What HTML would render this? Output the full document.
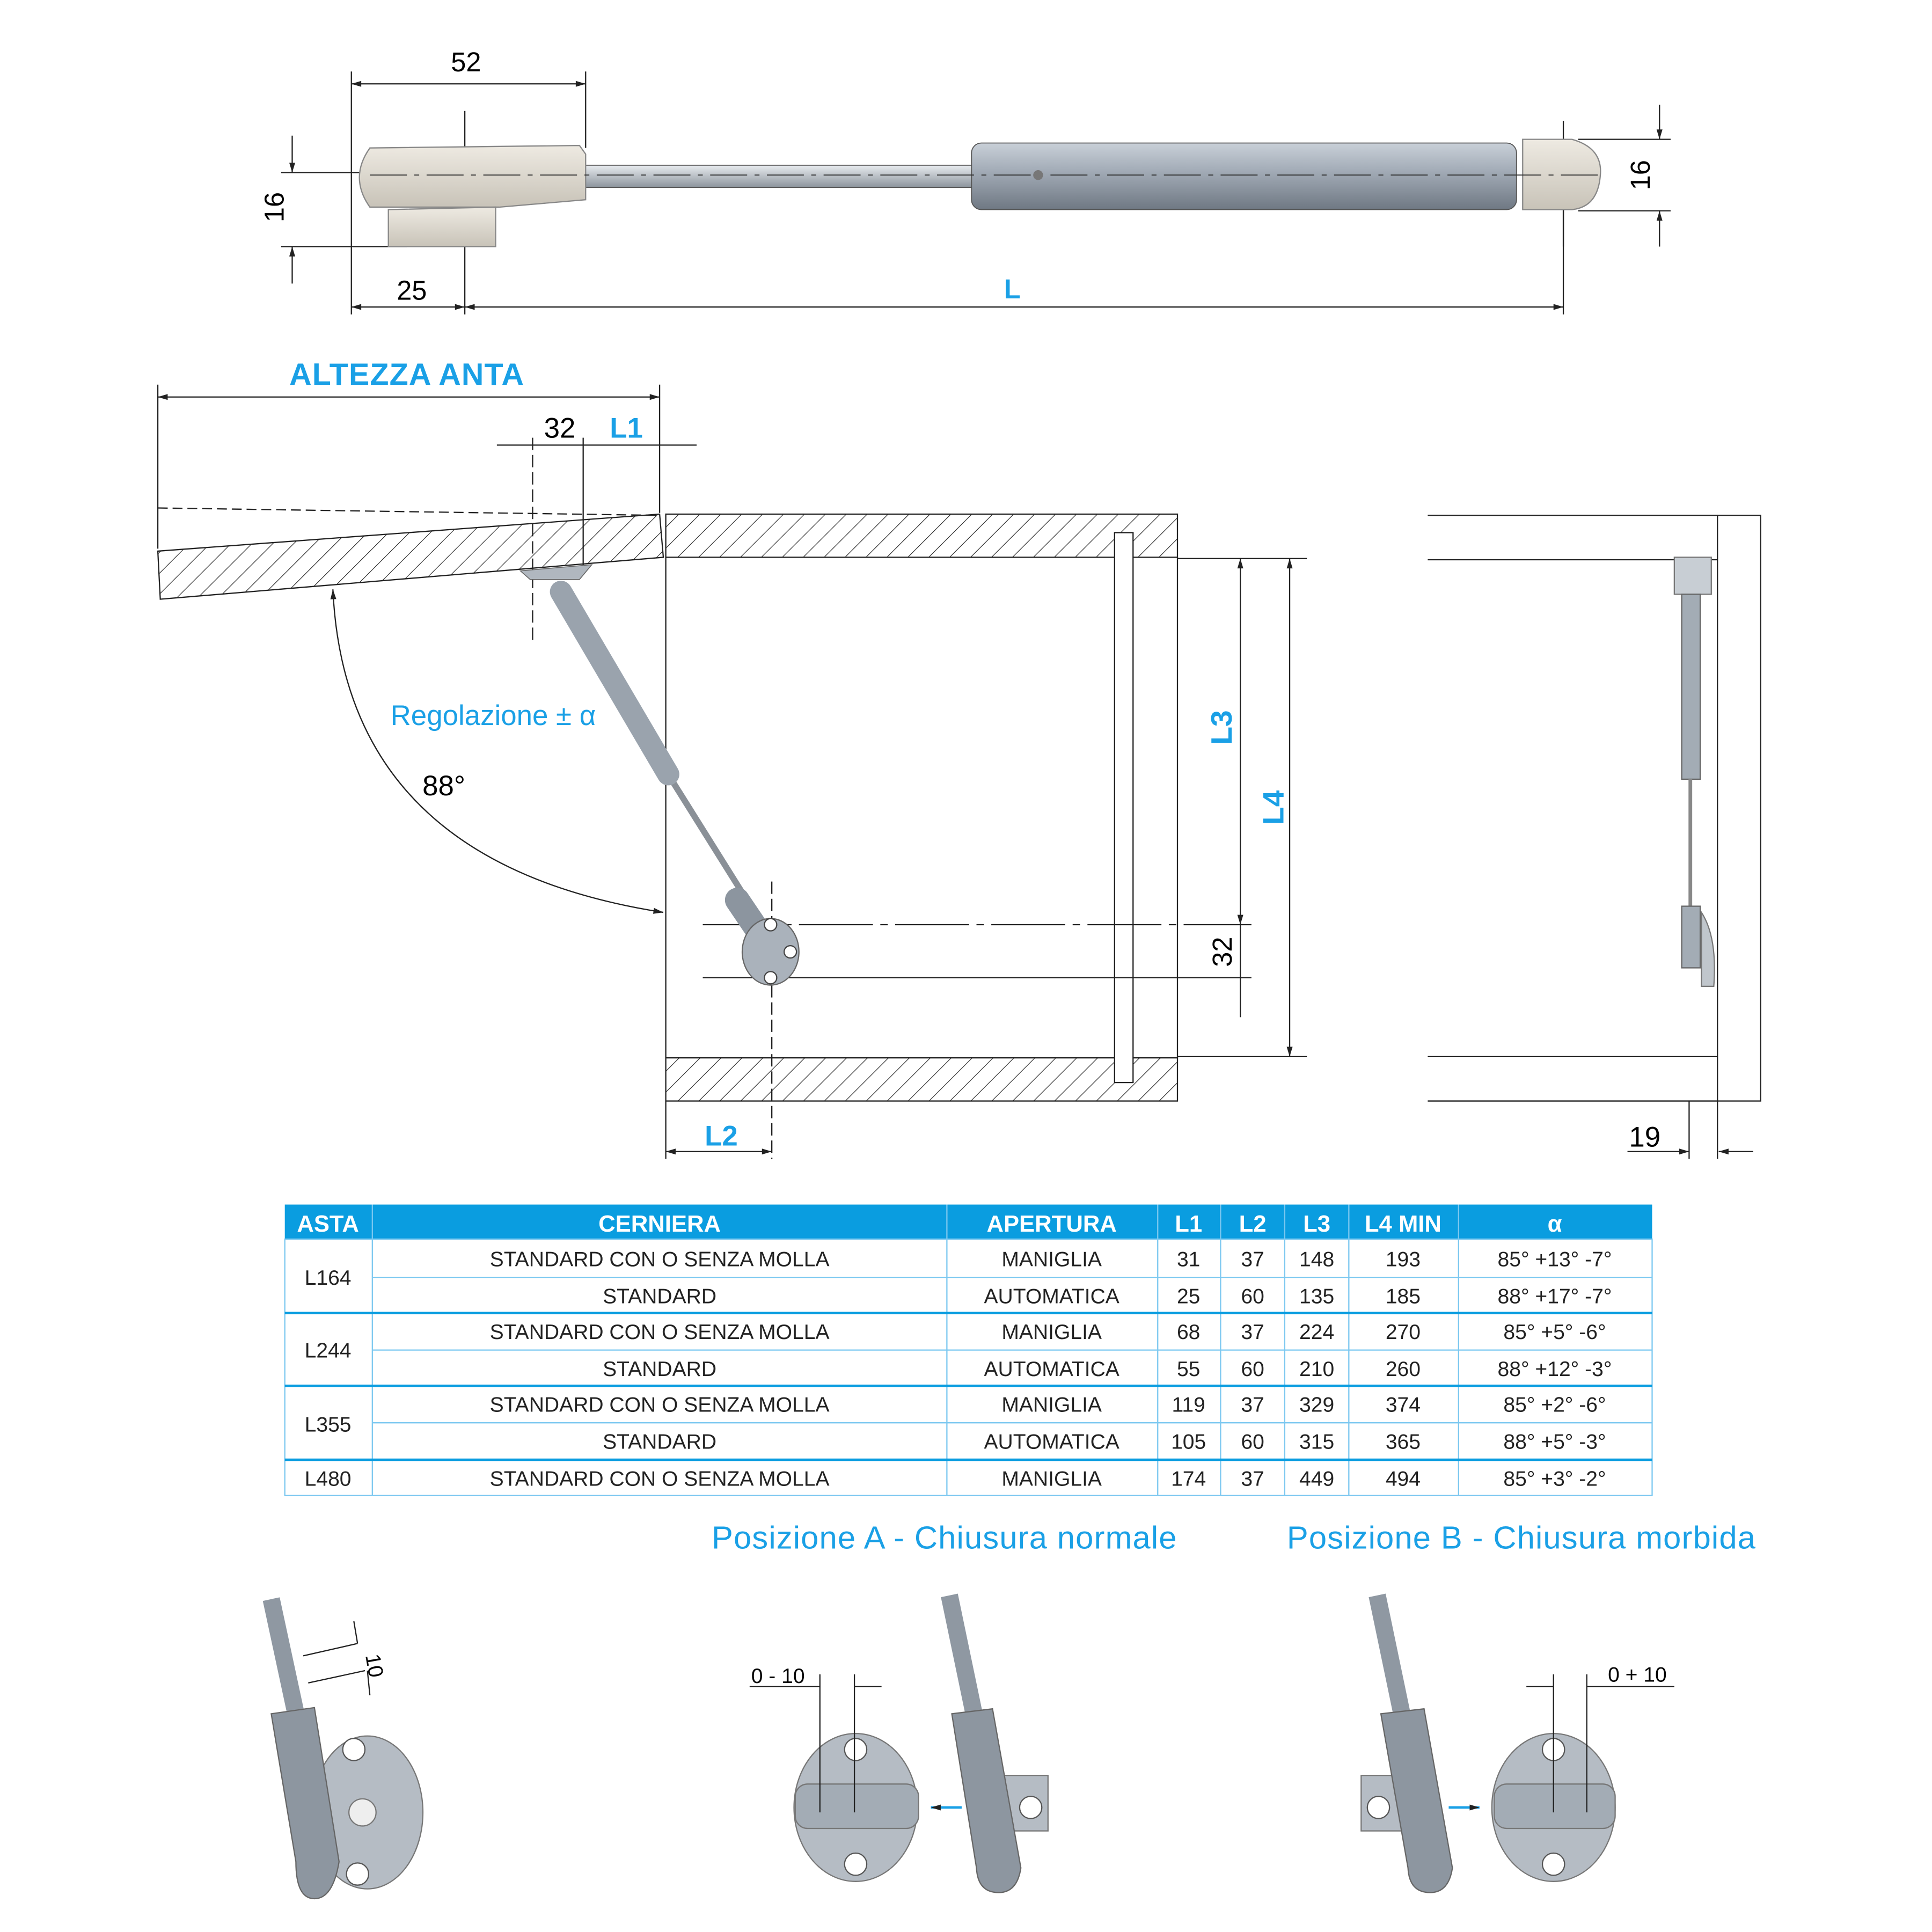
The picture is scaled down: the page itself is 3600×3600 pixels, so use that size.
<!DOCTYPE html>
<html><head><meta charset="utf-8"><style>
html,body{margin:0;padding:0;background:#fff;}
svg{display:block;}
text{font-family:"Liberation Sans",sans-serif;}
</style></head><body>
<svg width="3600" height="3600" viewBox="0 0 1567 1567" xmlns="http://www.w3.org/2000/svg">
<defs>
<pattern id="h" width="12" height="12" patternUnits="userSpaceOnUse" patternTransform="rotate(45)">
<line x1="0" y1="0" x2="0" y2="12" stroke="#222" stroke-width="1"/></pattern>
<linearGradient id="cyl" x1="0" y1="0" x2="0" y2="1"><stop offset="0" stop-color="#c9d0d8"/><stop offset="0.4" stop-color="#a4adb8"/><stop offset="1" stop-color="#6f7883"/></linearGradient>
<linearGradient id="rod" x1="0" y1="0" x2="0" y2="1"><stop offset="0" stop-color="#e8ecf0"/><stop offset="1" stop-color="#8c949c"/></linearGradient>
<linearGradient id="beige" x1="0" y1="0" x2="0" y2="1"><stop offset="0" stop-color="#eeeae2"/><stop offset="1" stop-color="#c8c3b8"/></linearGradient>
<marker id="a" viewBox="0 0 10 10" refX="10" refY="5" markerWidth="10" markerHeight="8" orient="auto-start-reverse" markerUnits="userSpaceOnUse"><path d="M0,2 L10,5 L0,8 z" fill="#222"/></marker>
</defs>
<g stroke="#222" stroke-width="1" fill="none">
<line x1="285" y1="68" x2="475" y2="68" marker-start="url(#a)" marker-end="url(#a)"/>
<line x1="285" y1="58" x2="285" y2="255"/><line x1="475" y1="58" x2="475" y2="120"/>
<line x1="377" y1="90" x2="377" y2="255"/>
<line x1="285" y1="249" x2="377" y2="249" marker-start="url(#a)" marker-end="url(#a)"/>
<line x1="377" y1="249" x2="1268" y2="249" marker-start="url(#a)" marker-end="url(#a)"/>
<line x1="1268" y1="170" x2="1268" y2="255"/>
<line x1="237" y1="110" x2="237" y2="140" marker-end="url(#a)"/><line x1="237" y1="230" x2="237" y2="200" marker-end="url(#a)"/>
<line x1="228" y1="140" x2="295" y2="140"/><line x1="228" y1="200" x2="330" y2="200"/>
<line x1="1346" y1="85" x2="1346" y2="113" marker-end="url(#a)"/><line x1="1346" y1="200" x2="1346" y2="171" marker-end="url(#a)"/>
<line x1="1280" y1="113" x2="1355" y2="113"/><line x1="1280" y1="171" x2="1355" y2="171"/>
<line x1="1268" y1="98" x2="1268" y2="200"/>
</g>
<rect x="470" y="134" width="322" height="18" fill="url(#rod)" stroke="#555" stroke-width="0.8"/>
<rect x="788" y="116" width="442" height="54" rx="8" fill="url(#cyl)" stroke="#555" stroke-width="0.8"/>
<path d="M300,120 L470,118 L475,125 L475,162 L405,168 L300,168 Q283,144 300,120z" fill="url(#beige)" stroke="#888"/>
<path d="M315,170 L402,168 L402,200 L315,200 z" fill="url(#beige)" stroke="#888"/>
<path d="M1235,113 L1275,113 Q1300,120 1298,142 Q1296,168 1275,170 L1235,170z" fill="url(#beige)" stroke="#888"/>
<line x1="300" y1="142" x2="1300" y2="142" stroke="#333" stroke-dasharray="30,6,4,6" stroke-width="0.8"/>
<circle cx="842" cy="142" r="4" fill="#777"/>
<text x="378" y="58" font-size="22" text-anchor="middle">52</text>
<text x="334" y="243" font-size="22" text-anchor="middle">25</text>
<text x="821" y="242" font-size="22" font-weight="bold" fill="#1aa0e6" text-anchor="middle">L</text>
<text transform="translate(230,168) rotate(-90)" font-size="22" text-anchor="middle">16</text>
<text transform="translate(1338,142) rotate(-90)" font-size="22" text-anchor="middle">16</text>

<text x="330" y="312" font-size="25" font-weight="bold" fill="#1aa0e6" text-anchor="middle" letter-spacing="0.5">ALTEZZA ANTA</text>
<g stroke="#222" stroke-width="1" fill="none">
<line x1="128" y1="322" x2="535" y2="322" marker-start="url(#a)" marker-end="url(#a)"/>
<line x1="128" y1="312" x2="128" y2="445"/><line x1="535" y1="312" x2="535" y2="416"/>
<line x1="403" y1="361" x2="565" y2="361"/>
<line x1="432" y1="355" x2="432" y2="520" stroke-dasharray="10,4"/>
<line x1="473" y1="355" x2="473" y2="460"/>
<line x1="128" y1="412" x2="535" y2="418" stroke-dasharray="8,4"/>
<polygon points="128,447 535,417 538,452 130,486" fill="url(#h)"/>
<rect x="540" y="417" width="415" height="35" fill="url(#h)"/>
<rect x="540" y="858" width="415" height="35" fill="url(#h)"/>
<line x1="540" y1="452" x2="540" y2="858"/><line x1="955" y1="452" x2="955" y2="858"/>
<rect x="904" y="432" width="15" height="446" fill="#fff"/>
<line x1="955" y1="453" x2="1060" y2="453"/><line x1="955" y1="857" x2="1060" y2="857"/>
<line x1="570" y1="750" x2="1015" y2="750" stroke-dasharray="60,6,6,6"/>
<line x1="570" y1="793" x2="1015" y2="793"/>
<line x1="1006" y1="453" x2="1006" y2="750" marker-start="url(#a)" marker-end="url(#a)"/>
<line x1="1046" y1="453" x2="1046" y2="857" marker-start="url(#a)" marker-end="url(#a)"/>
<line x1="1006" y1="750" x2="1006" y2="825"/>
<line x1="626" y1="715" x2="626" y2="940" stroke-dasharray="10,4"/>
<line x1="540" y1="934" x2="626" y2="934" marker-start="url(#a)" marker-end="url(#a)"/>
<line x1="540" y1="893" x2="540" y2="940"/>
<path d="M270,478 Q280,700 538,740" marker-start="url(#a)" marker-end="url(#a)"/>
<line x1="1158" y1="418" x2="1393" y2="418"/><line x1="1158" y1="454" x2="1393" y2="454"/>
<line x1="1158" y1="857" x2="1393" y2="857"/><line x1="1158" y1="893" x2="1393" y2="893"/>
<rect x="1393" y="418" width="35" height="475"/>
<line x1="1370" y1="893" x2="1370" y2="940"/><line x1="1393" y1="893" x2="1393" y2="940"/>
<line x1="1320" y1="934" x2="1370" y2="934" marker-end="url(#a)"/><line x1="1422" y1="934" x2="1394" y2="934" marker-end="url(#a)"/>
</g>
<polygon points="422,463 480,458 470,470 430,470" fill="#b0b7bf" stroke="#666" stroke-width="0.7"/>
<line x1="540" y1="625" x2="612" y2="740" stroke="#8a9097" stroke-width="5"/>
<line x1="455" y1="480" x2="542" y2="628" stroke="#9aa3ad" stroke-width="18" stroke-linecap="round"/>
<line x1="598" y1="730" x2="625" y2="770" stroke="#8c959f" stroke-width="20" stroke-linecap="round"/>
<ellipse cx="625" cy="772" rx="23" ry="27" fill="#aab2bb" stroke="#666"/>
<circle cx="625" cy="750" r="5" fill="#fff" stroke="#444"/><circle cx="625" cy="793" r="5" fill="#fff" stroke="#444"/>
<circle cx="641" cy="772" r="5" fill="#fff" stroke="#444"/>
<rect x="1358" y="452" width="30" height="30" fill="#c8ced4" stroke="#777"/>
<rect x="1364" y="482" width="15" height="150" fill="#a3acb5" stroke="#666"/>
<line x1="1371" y1="632" x2="1371" y2="735" stroke="#888" stroke-width="3"/>
<rect x="1364" y="735" width="15" height="50" fill="#a3acb5" stroke="#666"/>
<path d="M1380,740 Q1393,760 1390,800 L1380,800z" fill="#c0c6cc" stroke="#777"/>
<text x="400" y="588" font-size="23" fill="#1aa0e6" text-anchor="middle">Regolazione ± α</text>
<text x="360" y="645" font-size="23" text-anchor="middle">88°</text>
<text x="454" y="355" font-size="23" text-anchor="middle">32</text>
<text x="508" y="355" font-size="23" font-weight="bold" fill="#1aa0e6" text-anchor="middle">L1</text>
<text transform="translate(999,590) rotate(-90)" font-size="24" font-weight="bold" fill="#1aa0e6" text-anchor="middle">L3</text>
<text transform="translate(1041,655) rotate(-90)" font-size="24" font-weight="bold" fill="#1aa0e6" text-anchor="middle">L4</text>
<text transform="translate(999,772) rotate(-90)" font-size="22" text-anchor="middle">32</text>
<text x="585" y="929" font-size="23" font-weight="bold" fill="#1aa0e6" text-anchor="middle">L2</text>
<text x="1334" y="930" font-size="23" text-anchor="middle">19</text>

<rect x="231" y="977" width="1109" height="28" fill="#0a9de0"/>
<g stroke="#7cc8f0" stroke-width="1" fill="none">
<rect x="231" y="1005" width="1109" height="208"/>
<line x1="302" y1="977" x2="302" y2="1213"/><line x1="768" y1="977" x2="768" y2="1213"/>
<line x1="939" y1="977" x2="939" y2="1213"/><line x1="990" y1="977" x2="990" y2="1213"/>
<line x1="1042" y1="977" x2="1042" y2="1213"/><line x1="1094" y1="977" x2="1094" y2="1213"/>
<line x1="1183" y1="977" x2="1183" y2="1213"/>
<line x1="302" y1="1036" x2="1340" y2="1036"/>
<line x1="302" y1="1095" x2="1340" y2="1095"/><line x1="302" y1="1154" x2="1340" y2="1154"/>
</g>
<g stroke="#0a9de0" stroke-width="2">
<line x1="231" y1="1065" x2="1340" y2="1065"/><line x1="231" y1="1124" x2="1340" y2="1124"/><line x1="231" y1="1184" x2="1340" y2="1184"/>
</g>
<g font-size="19" font-weight="bold" fill="#fff" text-anchor="middle">
<text x="266" y="999">ASTA</text><text x="535" y="999">CERNIERA</text><text x="853" y="999">APERTURA</text>
<text x="964" y="999">L1</text><text x="1016" y="999">L2</text><text x="1068" y="999">L3</text><text x="1138" y="999">L4 MIN</text><text x="1261" y="999">α</text>
</g>
<g font-size="17" fill="#222" text-anchor="middle">
<text x="266" y="1042">L164</text><text x="266" y="1101">L244</text><text x="266" y="1161">L355</text><text x="266" y="1205">L480</text>
<text x="535" y="1027">STANDARD CON O SENZA MOLLA</text><text x="535" y="1057">STANDARD</text>
<text x="535" y="1086">STANDARD CON O SENZA MOLLA</text><text x="535" y="1116">STANDARD</text>
<text x="535" y="1145">STANDARD CON O SENZA MOLLA</text><text x="535" y="1175">STANDARD</text>
<text x="535" y="1205">STANDARD CON O SENZA MOLLA</text>
<text x="853" y="1027">MANIGLIA</text><text x="853" y="1057">AUTOMATICA</text><text x="853" y="1086">MANIGLIA</text><text x="853" y="1116">AUTOMATICA</text><text x="853" y="1145">MANIGLIA</text><text x="853" y="1175">AUTOMATICA</text><text x="853" y="1205">MANIGLIA</text>
<text x="964" y="1027">31</text><text x="964" y="1057">25</text><text x="964" y="1086">68</text><text x="964" y="1116">55</text><text x="964" y="1145">119</text><text x="964" y="1175">105</text><text x="964" y="1205">174</text>
<text x="1016" y="1027">37</text><text x="1016" y="1057">60</text><text x="1016" y="1086">37</text><text x="1016" y="1116">60</text><text x="1016" y="1145">37</text><text x="1016" y="1175">60</text><text x="1016" y="1205">37</text>
<text x="1068" y="1027">148</text><text x="1068" y="1057">135</text><text x="1068" y="1086">224</text><text x="1068" y="1116">210</text><text x="1068" y="1145">329</text><text x="1068" y="1175">315</text><text x="1068" y="1205">449</text>
<text x="1138" y="1027">193</text><text x="1138" y="1057">185</text><text x="1138" y="1086">270</text><text x="1138" y="1116">260</text><text x="1138" y="1145">374</text><text x="1138" y="1175">365</text><text x="1138" y="1205">494</text>
<text x="1261" y="1027">85° +13° -7°</text><text x="1261" y="1057">88° +17° -7°</text><text x="1261" y="1086">85° +5° -6°</text><text x="1261" y="1116">88° +12° -3°</text><text x="1261" y="1145">85° +2° -6°</text><text x="1261" y="1175">88° +5° -3°</text><text x="1261" y="1205">85° +3° -2°</text>
</g>

<text x="766" y="1256" font-size="26" fill="#1aa0e6" text-anchor="middle" letter-spacing="0.5">Posizione A - Chiusura normale</text>
<text x="1234" y="1256" font-size="26" fill="#1aa0e6" text-anchor="middle" letter-spacing="0.5">Posizione B - Chiusura morbida</text>

<g>
<ellipse cx="298" cy="1470" rx="45" ry="62" fill="#b5bcc4" stroke="#777"/>
<circle cx="287" cy="1419" r="9" fill="#fff" stroke="#555"/><circle cx="290" cy="1520" r="9" fill="#fff" stroke="#555"/>
<circle cx="294" cy="1470" r="11" fill="#eee" stroke="#777"/>
<line x1="220" y1="1297" x2="240" y2="1390" stroke="#8f98a2" stroke-width="14"/>
<path d="M220,1390 L255,1385 L275,1510 Q270,1540 255,1540 Q240,1540 240,1510z" fill="#8d96a0" stroke="#666"/>
<g stroke="#222" fill="none"><line x1="246" y1="1343" x2="290" y2="1333"/><line x1="250" y1="1365" x2="296" y2="1355"/><line x1="287" y1="1315" x2="290" y2="1333"/><line x1="298" y1="1355" x2="300" y2="1375"/></g>
<text transform="translate(298,1352) rotate(80)" font-size="17" text-anchor="middle">10</text>
</g>
<g>
<ellipse cx="694" cy="1466" rx="50" ry="60" fill="#b5bcc4" stroke="#777"/>
<rect x="645" y="1447" width="100" height="36" rx="10" fill="#a3acb5" stroke="#777"/>
<circle cx="694" cy="1419" r="9" fill="#fff" stroke="#555"/><circle cx="694" cy="1512" r="9" fill="#fff" stroke="#555"/>
<rect x="812" y="1440" width="38" height="45" fill="#b5bcc4" stroke="#777"/>
<circle cx="836" cy="1466" r="9" fill="#fff" stroke="#555"/>
<line x1="770" y1="1294" x2="790" y2="1390" stroke="#8f98a2" stroke-width="14"/>
<path d="M772,1390 L805,1386 L828,1515 Q825,1535 810,1535 Q793,1535 792,1515z" fill="#8d96a0" stroke="#666"/>
<g stroke="#222" fill="none"><line x1="608" y1="1368" x2="665" y2="1368"/><line x1="665" y1="1358" x2="665" y2="1470"/><line x1="693" y1="1358" x2="693" y2="1470"/><line x1="693" y1="1368" x2="715" y2="1368"/></g>
<line x1="780" y1="1466" x2="755" y2="1466" stroke="#1aa0e6" stroke-width="2" marker-end="url(#a)"/>
<text x="631" y="1365" font-size="17" text-anchor="middle">0 - 10</text>
</g>
<g>
<ellipse cx="1260" cy="1466" rx="50" ry="60" fill="#b5bcc4" stroke="#777"/>
<rect x="1212" y="1447" width="98" height="36" rx="10" fill="#a3acb5" stroke="#777"/>
<circle cx="1260" cy="1419" r="9" fill="#fff" stroke="#555"/><circle cx="1260" cy="1512" r="9" fill="#fff" stroke="#555"/>
<rect x="1104" y="1440" width="38" height="45" fill="#b5bcc4" stroke="#777"/>
<circle cx="1118" cy="1466" r="9" fill="#fff" stroke="#555"/>
<line x1="1117" y1="1294" x2="1137" y2="1390" stroke="#8f98a2" stroke-width="14"/>
<path d="M1120,1390 L1155,1386 L1178,1515 Q1175,1535 1160,1535 Q1143,1535 1142,1515z" fill="#8d96a0" stroke="#666"/>
<g stroke="#222" fill="none"><line x1="1238" y1="1368" x2="1260" y2="1368"/><line x1="1260" y1="1358" x2="1260" y2="1470"/><line x1="1287" y1="1358" x2="1287" y2="1470"/><line x1="1287" y1="1368" x2="1358" y2="1368"/></g>
<line x1="1175" y1="1466" x2="1200" y2="1466" stroke="#1aa0e6" stroke-width="2" marker-end="url(#a)"/>
<text x="1328" y="1364" font-size="17" text-anchor="middle">0 + 10</text>
</g>
</svg>
</body></html>
